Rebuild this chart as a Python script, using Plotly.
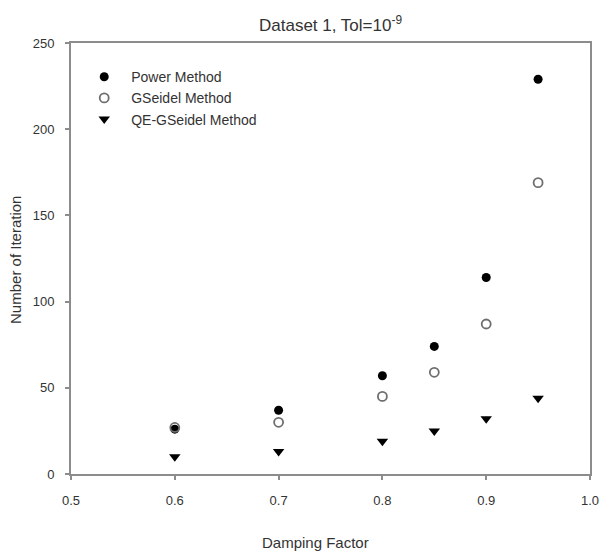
import plotly.graph_objects as go

damping = [0.6, 0.7, 0.8, 0.85, 0.9, 0.95]
power_iters = [26, 37, 57, 74, 114, 229]
gseidel_iters = [27, 30, 45, 59, 87, 169]
qe_gseidel_iters = [10, 13, 19, 25, 32, 44]

x_ticks = [0.5, 0.6, 0.7, 0.8, 0.9, 1.0]
y_ticks = [0, 50, 100, 150, 200, 250]

FONT = "Liberation Sans, Arial, sans-serif"
TXT = "#333333"
AX = "#8c8c8c"

fig = go.Figure()
fig.add_trace(go.Scatter(
    x=damping, y=power_iters, mode="markers", name="Power Method",
    marker=dict(symbol="circle", size=9, color="black", line=dict(width=0))))
fig.add_trace(go.Scatter(
    x=damping, y=gseidel_iters, mode="markers", name="GSeidel Method",
    marker=dict(symbol="circle-open", size=9, color="#6e6e6e", line=dict(width=1.8))))
fig.add_trace(go.Scatter(
    x=damping, y=qe_gseidel_iters, mode="markers", name="QE-GSeidel Method",
    marker=dict(symbol="triangle-down", size=10, color="black", line=dict(width=0))))

fig.update_layout(
    width=601, height=544,
    margin=dict(l=63, r=10, t=35, b=78),
    paper_bgcolor="white", plot_bgcolor="white",
    font=dict(family=FONT, color=TXT, size=12),
    title=dict(text="Dataset 1, Tol=10<sup>-9</sup>", x=0.5, xref="paper", xanchor="center",
               y=0.98, yref="container", font=dict(size=17, color=TXT)),
    showlegend=True,
    legend=dict(x=0.012, y=0.958, xanchor="left", yanchor="top",
                bgcolor="rgba(0,0,0,0)", font=dict(size=14, color=TXT),
                itemwidth=44, tracegroupgap=0),
    xaxis=dict(range=[0.5, 1.0], tickvals=x_ticks, tickformat=".1f",
               showgrid=False, zeroline=False, showline=True, mirror=True,
               linecolor=AX, linewidth=2, ticks="outside", ticklen=4,
               tickcolor=AX, tickwidth=1.5, ticklabelstandoff=9,
               tickfont=dict(size=13, color=TXT)),
    yaxis=dict(range=[0, 250], tickvals=y_ticks,
               showgrid=False, zeroline=False, showline=True, mirror=True,
               linecolor=AX, linewidth=2, ticks="outside", ticklen=4,
               tickcolor=AX, tickwidth=1.5, ticklabelstandoff=8,
               tickfont=dict(size=13, color=TXT)),
    annotations=[
        dict(text="Damping Factor", xref="paper", yref="paper",
             x=(320 - 71) / 528, y=-(542 - 474) / 431, xanchor="center", yanchor="middle",
             showarrow=False, font=dict(size=15, color=TXT)),
        dict(text="Number of Iteration", xref="paper", yref="paper",
             x=-(71 - 14) / 528, y=(474 - 260) / 431, xanchor="center", yanchor="middle",
             textangle=-90, showarrow=False, font=dict(size=15, color=TXT)),
    ],
)

fig.write_html("out.html")
